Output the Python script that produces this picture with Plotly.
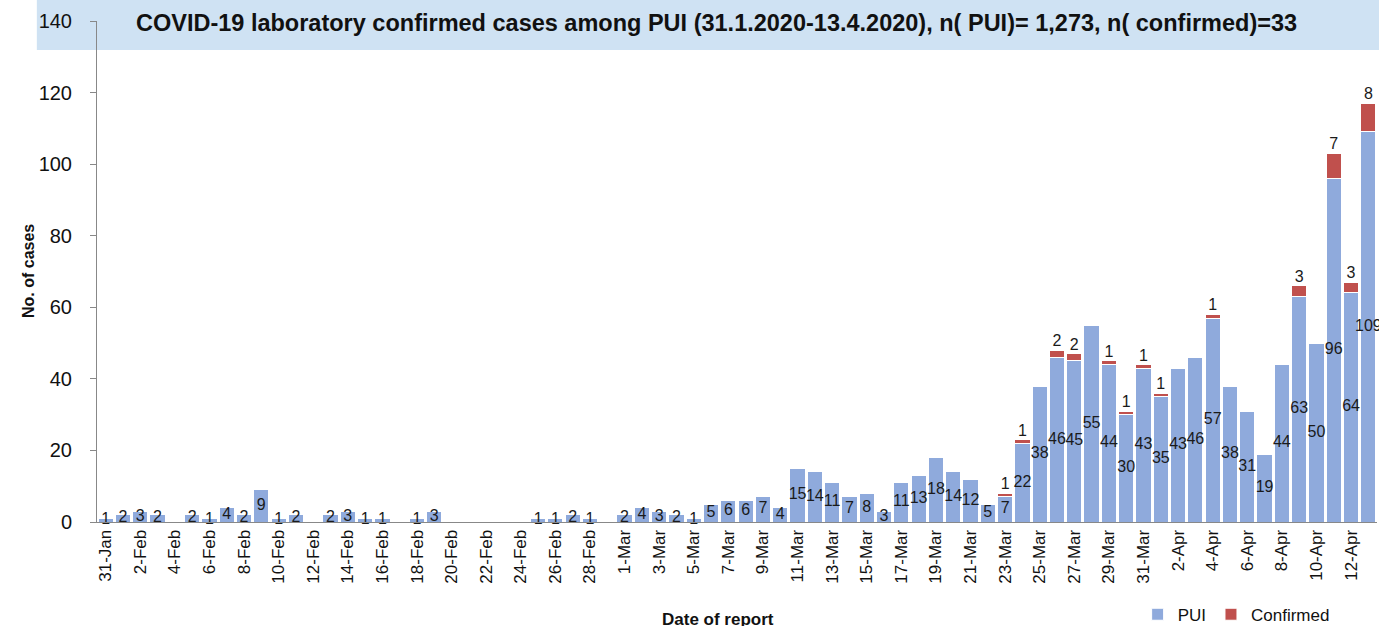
import plotly.graph_objects as go
import pandas as pd

# report dates 31 Jan - 13 Apr 2020
dates = [d.strftime("%-d-%b") for d in pd.date_range("2020-01-31", "2020-04-13")]

pui = [1, 2, 3, 2, 0, 2, 1, 4, 2, 9, 1, 2, 0, 2, 3, 1, 1, 0, 1, 3,
       0, 0, 0, 0, 0, 1, 1, 2, 1, 0, 2, 4, 3, 2, 1, 5, 6, 6, 7, 4,
       15, 14, 11, 7, 8, 3, 11, 13, 18, 14, 12, 5, 7, 22, 38, 46, 45, 55, 44, 30,
       43, 35, 43, 46, 57, 38, 31, 19, 44, 63, 50, 96, 64, 109]

confirmed = [0] * 52 + [1, 1, 0, 2, 2, 0, 1, 1, 1, 1, 0, 0, 1, 0, 0, 0, 0, 3, 0, 7, 3, 8]

y_ticks = [0, 20, 40, 60, 80, 100, 120, 140]

PUI_COLOR = "#8FAADC"
CONF_COLOR = "#C0504D"
FONT = "Liberation Sans"

pos = list(range(len(dates)))

fig = go.Figure()

fig.add_trace(go.Bar(
    x=pos, y=pui, name="PUI",
    marker=dict(color=PUI_COLOR, line=dict(color="white", width=1))
))
fig.add_trace(go.Bar(
    x=pos, y=confirmed, name="Confirmed",
    marker=dict(color=CONF_COLOR, line=dict(color="white", width=1))
))

# value labels: PUI centred in its segment, confirmed above the stack
pui_x = [i for i, v in zip(pos, pui) if v > 0]
pui_v = [v for v in pui if v > 0]
fig.add_trace(go.Scatter(
    x=pui_x, y=[v / 2 for v in pui_v], text=[str(v) for v in pui_v],
    mode="text", textposition="middle center", cliponaxis=False,
    textfont=dict(family=FONT, size=16, color="#1a1a1a"),
    showlegend=False, hoverinfo="skip"
))
conf_x = [i for i, c in zip(pos, confirmed) if c > 0]
conf_top = [p + c for p, c in zip(pui, confirmed) if c > 0]
conf_v = [c for c in confirmed if c > 0]
fig.add_trace(go.Scatter(
    x=conf_x, y=conf_top, text=[str(v) for v in conf_v],
    mode="text", textposition="top center", cliponaxis=False,
    textfont=dict(family=FONT, size=16, color="#1a1a1a"),
    showlegend=False, hoverinfo="skip"
))

# title band
fig.add_shape(type="rect", xref="paper", yref="paper",
              x0=-0.047, x1=1.01, y0=0.942, y1=1.05,
              fillcolor="#CFE2F3", line=dict(width=0), layer="below")
fig.add_annotation(
    text="<b>COVID-19 laboratory confirmed cases among PUI (31.1.2020-13.4.2020), n( PUI)= 1,273, n( confirmed)=33</b>",
    xref="paper", yref="paper", x=0.4836, y=0.996, yanchor="middle", showarrow=False,
    font=dict(family=FONT, size=23.5, color="#111111")
)
fig.add_annotation(
    text="<b>No. of cases</b>", textangle=-90,
    xref="paper", yref="paper", x=-0.0617, y=0.5, showarrow=False,
    font=dict(family=FONT, size=16, color="#111111")
)
fig.add_annotation(
    text="<b>Date of report</b>",
    xref="paper", yref="paper", x=0.485, y=-0.195, yanchor="middle", showarrow=False,
    font=dict(family=FONT, size=17, color="#111111")
)

fig.update_layout(
    width=1379, height=626,
    barmode="stack", bargap=0.12,
    paper_bgcolor="white", plot_bgcolor="white",
    font=dict(family=FONT, size=16, color="#111111"),
    margin=dict(l=97, r=2, t=21, b=104, autoexpand=False),
    xaxis=dict(
        tickvals=pos[::2], ticktext=dates[::2], tickangle=-90,
        showline=True, linecolor="#888888", linewidth=1,
        ticks="", showgrid=False, zeroline=False,
        range=[-0.5, len(dates) - 0.5], automargin=False,
        tickfont=dict(size=17)
    ),
    yaxis=dict(
        range=[0, 140], tickvals=y_ticks, showgrid=False, zeroline=False,
        showline=True, linecolor="#888888", linewidth=1,
        ticks="outside", ticklen=6, tickcolor="#888888",
        ticklabelstandoff=14, automargin=False,
        tickfont=dict(size=20)
    ),
    legend=dict(
        orientation="h", traceorder="normal", itemwidth=30,
        x=0.813, y=-0.185, xanchor="left", yanchor="middle",
        font=dict(size=17), bgcolor="rgba(0,0,0,0)"
    ),
    showlegend=True
)

# drop the browser's default 8px body margin so the figure sits at (0, 0)
fig.write_html("out.html", config={"displayModeBar": False},
               post_script="document.body.style.margin='0px';")
